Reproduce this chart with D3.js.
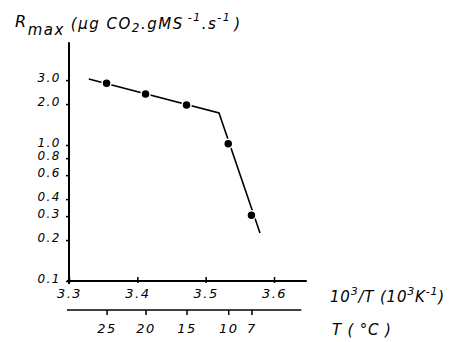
<!DOCTYPE html>
<html>
<head>
<meta charset="utf-8">
<script src="https://cdn.jsdelivr.net/npm/d3@7"></script>
<style>
  body { margin: 0; background: #fff; }
  text { font-family: "DejaVu Sans", sans-serif; font-style: italic; fill: #000; }
</style>
</head>
<body>
<svg id="chart" width="456" height="342"></svg>
<script>
// measured points, 10^3/T vs Rmax
var invT = [3.355, 3.412, 3.472, 3.533, 3.567];
var rmax = [2.85, 2.37, 1.97, 1.02, 0.305];

// fitted broken line
var fitX = [3.329, 3.5195, 3.5795];
var fitY = [3.06, 1.72, 0.225];

var xTicks = [3.3, 3.4, 3.5, 3.6];
var yTicks = [0.1, 0.2, 0.3, 0.4, 0.6, 0.8, 1.0, 2.0, 3.0];
var tempLabels = ["25", "20", "15", "10", "7"];
var tempPos = [3.355, 3.412, 3.472, 3.533, 3.567];

var svg = d3.select("#chart");

var x = d3.scaleLinear().domain([3.3, 3.6]).range([69, 274]);
var y = d3.scaleLog().domain([0.1, 1]).range([281, 145]);

var xEnd = 3.648, yTop = 5.7;

// axes lines
svg.append("line")
   .attr("x1", x(3.3)).attr("x2", x(3.3))
   .attr("y1", y(0.1) + 3).attr("y2", y(yTop))
   .attr("stroke", "#000").attr("stroke-width", 2);
svg.append("line")
   .attr("x1", x(3.3) - 2).attr("x2", x(xEnd))
   .attr("y1", y(0.1)).attr("y2", y(0.1))
   .attr("stroke", "#000").attr("stroke-width", 2);

function tickText(sel, size, dy) {
  sel.selectAll("text")
     .attr("font-size", size).attr("letter-spacing", 1.5)
     .attr("dy", dy)
     .style("font-family", "DejaVu Sans").style("font-style", "italic");
}

// y ticks
var yAxis = svg.append("g")
   .attr("transform", "translate(" + x(3.3) + ",0)")
   .call(d3.axisLeft(y).tickValues(yTicks).tickSize(3).tickPadding(5)
     .tickFormat(d3.format(".1f")));
yAxis.select(".domain").remove();
yAxis.selectAll("line").attr("stroke-width", 1.5);
tickText(yAxis, 12, "0.1em");

// x ticks
var xAxis = svg.append("g")
   .attr("transform", "translate(0," + y(0.1) + ")")
   .call(d3.axisBottom(x).tickValues(xTicks).tickSize(-4).tickPadding(8)
     .tickFormat(d3.format(".1f")));
xAxis.select(".domain").remove();
xAxis.selectAll("line").attr("stroke-width", 1.5).attr("y2", -4).attr("y1", 2);
tickText(xAxis, 13, "0.71em");

// temperature axis
var tY = 310;
svg.append("line")
   .attr("x1", 67).attr("x2", x(3.64))
   .attr("y1", tY).attr("y2", tY)
   .attr("stroke", "#000").attr("stroke-width", 1.5);
var tAxis = svg.append("g")
   .attr("transform", "translate(0," + tY + ")")
   .call(d3.axisBottom(x).tickValues(tempPos).tickSize(5).tickPadding(9)
     .tickFormat(function(d, i) { return tempLabels[i]; }));
tAxis.select(".domain").remove();
tAxis.selectAll("line").attr("stroke-width", 1.5);
tickText(tAxis, 13, "0.71em");

// fitted line
var line = d3.line()
   .x(function(d, i) { return x(fitX[i]); })
   .y(function(d, i) { return y(fitY[i]); });
svg.append("path")
   .datum(fitX)
   .attr("d", line)
   .attr("fill", "none")
   .attr("stroke", "#000")
   .attr("stroke-width", 1.6);

// points
svg.selectAll("circle.pt")
   .data(invT)
   .enter().append("circle")
   .attr("class", "pt")
   .attr("cx", function(d) { return x(d); })
   .attr("cy", function(d, i) { return y(rmax[i]); })
   .attr("r", 4.5)
   .attr("fill", "#000")
   .attr("stroke", "#fff")
   .attr("stroke-width", 1.5);

// y title
var title = svg.append("text").attr("x", 15).attr("y", 27)
   .attr("font-size", 15).attr("letter-spacing", 1.5);
title.append("tspan").attr("font-size", 16).text("R");
title.append("tspan").attr("dy", 8).text("max");
title.append("tspan").attr("dy", -6).attr("dx", 6).text("(µg CO");
title.append("tspan").attr("dy", 3).attr("font-size", 12).text("2");
title.append("tspan").attr("dy", -3).text(".gMS");
title.append("tspan").attr("dy", -8).attr("dx", 4).attr("font-size", 11).text("-1");
title.append("tspan").attr("dy", 8).text(".s");
title.append("tspan").attr("dy", -8).attr("font-size", 11).text("-1");
title.append("tspan").attr("dy", 8).attr("dx", 3).text(")");

// x titles
var xt = svg.append("text").attr("x", 330).attr("y", 302)
   .attr("font-size", 15).attr("letter-spacing", 0.8);
xt.append("tspan").text("10");
xt.append("tspan").attr("dy", -7).attr("font-size", 11).text("3");
xt.append("tspan").attr("dy", 7).text("/T (10");
xt.append("tspan").attr("dy", -7).attr("font-size", 11).text("3");
xt.append("tspan").attr("dy", 7).text("K");
xt.append("tspan").attr("dy", -7).attr("font-size", 11).text("-1");
xt.append("tspan").attr("dy", 7).text(")");

svg.append("text").attr("x", 332).attr("y", 335)
   .attr("font-size", 15).attr("letter-spacing", 0.8).text("T ( °C )");
</script>
</body>
</html>
